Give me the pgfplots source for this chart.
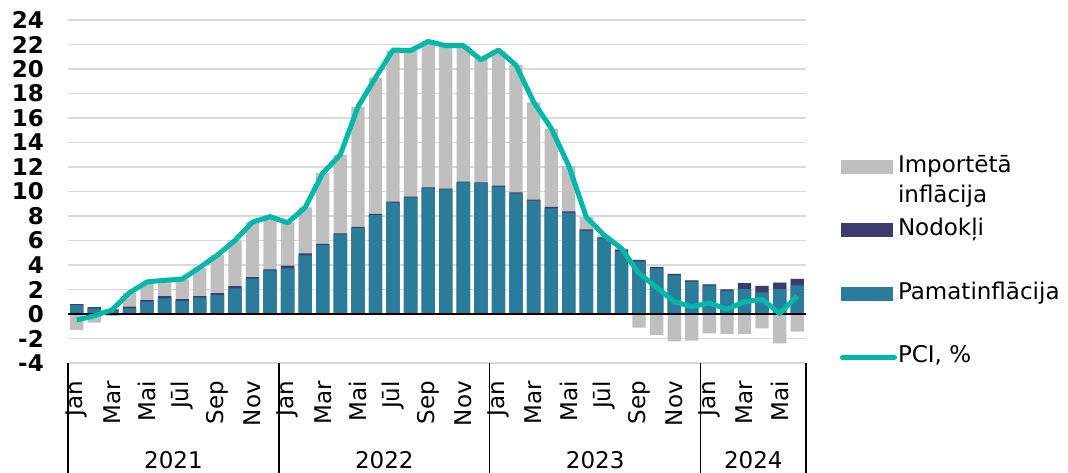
\documentclass[border=0pt]{standalone}
\usepackage{pgfplots}
\pgfplotsset{compat=1.18}
\usepackage{pgfplotstable}
\usepackage{fontspec}
\setmainfont{DejaVu Sans}
\definecolor{tealbar}{HTML}{2B7C9A}
\definecolor{navybar}{HTML}{3C3C6E}
\definecolor{impgray}{HTML}{BFBFBF}
\definecolor{pcicol}{HTML}{00B8AA}
\definecolor{gridgray}{HTML}{D9D9D9}
\pgfplotsset{
  barleg/.style={legend image code/.code={\fill[##1] (0pt,-7pt) rectangle (52pt,7pt);}},
  lineleg/.style={legend image code/.code={\draw[##1, line cap=round] (2pt,0pt) -- (54pt,0pt);}},
}
\pgfplotstableread{
x t n g p
0 0.73 0.08 -1.30 -0.49
1 0.46 0.10 -0.70 -0.15
2 0.25 0.12 -0.15 0.33
3 0.46 0.14 1.10 1.74
4 1.00 0.14 1.40 2.62
5 1.28 0.18 1.20 2.75
6 1.06 0.16 1.60 2.85
7 1.33 0.12 2.30 3.80
8 1.55 0.16 3.10 4.80
9 2.10 0.18 3.70 6.00
10 2.88 0.14 4.45 7.50
11 3.54 0.10 4.20 7.95
12 3.73 0.22 3.50 7.45
13 4.79 0.16 3.75 8.70
14 5.63 0.10 5.80 11.50
15 6.50 0.08 6.40 13.00
16 7.02 0.10 9.78 16.90
17 8.08 0.10 11.12 19.30
18 9.10 0.08 12.30 21.55
19 9.52 0.06 11.90 21.50
20 10.26 0.08 11.90 22.25
21 10.18 0.06 11.60 21.90
22 10.75 0.06 11.05 21.90
23 10.69 0.06 10.10 20.75
24 10.40 0.08 11.00 21.55
25 9.85 0.08 10.40 20.30
26 9.25 0.08 7.95 17.30
27 8.63 0.11 6.40 15.15
28 8.27 0.11 3.70 12.10
29 6.80 0.11 1.00 7.90
30 6.15 0.11 0.15 6.45
31 5.12 0.14 0.10 5.35
32 4.30 0.11 -1.12 3.30
33 3.73 0.11 -1.71 2.18
34 3.16 0.11 -2.23 1.00
35 2.64 0.11 -2.18 0.60
36 2.31 0.11 -1.58 0.90
37 1.88 0.14 -1.63 0.38
38 2.04 0.49 -1.63 1.00
39 1.77 0.52 -1.17 1.20
40 2.04 0.52 -2.39 0.05
41 2.34 0.52 -1.44 1.47
}\datatable
\begin{document}
\begin{tikzpicture}
\path[use as bounding box] (-68pt,-110pt) rectangle (1000pt,363pt);
\begin{axis}[
  at={(0pt,0pt)}, anchor=south west,
  scale only axis, width=738pt, height=343pt,
  xmin=-0.5, xmax=41.5, ymin=-4, ymax=24,
  ybar,
  clip mode=individual,
  ytick={-4,-2,...,24},
  ymajorgrids, grid style={color=gridgray, line width=1.5pt},
  axis line style={draw=none},
  tick pos=left,
  major tick length=0pt,
  xtick={0,2,...,40},
  xticklabels={Jan,Mar,Mai,Jūl,Sep,Nov,Jan,Mar,Mai,Jūl,Sep,Nov,Jan,Mar,Mai,Jūl,Sep,Nov,Jan,Mar,Mai},
  x tick label style={yshift=-18pt, rotate=90, anchor=east, inner sep=0pt, font=\fontsize{23}{28}\selectfont},
  y tick label style={anchor=east, inner sep=0pt, font=\fontsize{23}{28}\selectfont\bfseries},
  yticklabel shift=24pt,
  /pgf/number format/assume math mode=true,
  extra x ticks={-0.5,11.5,23.5,35.5,41.5},
  extra x tick labels={},
  extra x tick style={major tick length=110pt, tick align=outside, tick style={black, line width=1.5pt}},
  legend style={at={(axis description cs:1.0461,0.605)}, anchor=north west, draw=none, fill=none,
    inner sep=0pt, outer sep=0pt, row sep=40.5pt, column sep=1pt,
    font=\fontsize{23}{30}\selectfont,
    nodes={inner sep=0pt, text height=17pt, text depth=6pt, anchor=west}},
  legend cell align=left,
]
\addplot[bar width=13.3pt, bar shift=0pt, fill=impgray, draw=none, barleg]
  table[x=x, y expr={\thisrow{t}+\thisrow{n}+max(\thisrow{g},0)}] {\datatable};
\addlegendentry{\smash{\vtop{\hbox{Importētā}\hbox{inflācija}}}}
\addplot[bar width=13.3pt, bar shift=0pt, fill=navybar, draw=none, barleg]
  table[x=x, y expr={\thisrow{t}+\thisrow{n}}] {\datatable};
\addlegendentry{Nodokļi}
\addplot[bar width=13.3pt, bar shift=0pt, fill=tealbar, draw=none, barleg]
  table[x=x, y=t] {\datatable};
\addlegendentry{Pamatinflācija}
\addplot[bar width=13.3pt, bar shift=0pt, fill=impgray, draw=none, forget plot]
  table[x=x, y expr={min(\thisrow{g},0)}] {\datatable};
\addplot[sharp plot, black, line width=2pt, forget plot] coordinates {(-0.5,0) (41.5,0)};
\addplot[sharp plot, color=pcicol, line width=5pt, line join=round, no markers, lineleg]
  table[x=x, y=p] {\datatable};
\addlegendentry{PCI, \%}
\node[font=\fontsize{23}{28}\selectfont, yshift=-97pt] at (axis cs:5.5,-4) {2021};
\node[font=\fontsize{23}{28}\selectfont, yshift=-97pt] at (axis cs:17.5,-4) {2022};
\node[font=\fontsize{23}{28}\selectfont, yshift=-97pt] at (axis cs:29.5,-4) {2023};
\node[font=\fontsize{23}{28}\selectfont, yshift=-97pt] at (axis cs:38.5,-4) {2024};
\end{axis}
\end{tikzpicture}
\end{document}
